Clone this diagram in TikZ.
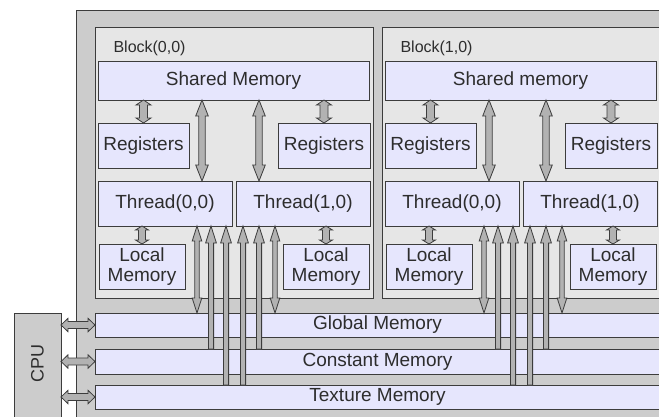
\documentclass[tikz,border=0pt]{standalone}
\usepackage{fontspec}
\setmainfont{Liberation Sans}
\usetikzlibrary{calc}

\definecolor{outerc}{RGB}{204,204,204}
\definecolor{blockc}{RGB}{230,230,230}
\definecolor{memc}{RGB}{230,230,253}
\definecolor{arrc}{RGB}{178,178,178}
\definecolor{linec}{RGB}{60,60,60}
\definecolor{textc}{RGB}{45,45,45}

\tikzset{
  membox/.style={draw=linec, line width=0.9pt, fill=memc, text=textc, inner sep=0pt, outer sep=0pt,
    align=center, anchor=north west, font=\fontsize{19}{20}\selectfont},
  fat/.style={draw=linec, line width=0.8pt, fill=arrc, line join=miter},
  % 双头粗箭头: #1 箭杆半宽, #2 箭头半宽, #3 箭头长度
  dbl/.style n args={3}{to path={
     -- ($(\tikztostart)!#3pt!(\tikztotarget)!#2pt!90:(\tikztotarget)$)
     -- ($(\tikztostart)!#3pt!(\tikztotarget)!#1pt!90:(\tikztotarget)$)
     -- ($(\tikztotarget)!#3pt!(\tikztostart)!#1pt!-90:(\tikztostart)$)
     -- ($(\tikztotarget)!#3pt!(\tikztostart)!#2pt!-90:(\tikztostart)$)
     -- (\tikztotarget)
     -- ($(\tikztotarget)!#3pt!(\tikztostart)!#2pt!90:(\tikztostart)$)
     -- ($(\tikztotarget)!#3pt!(\tikztostart)!#1pt!90:(\tikztostart)$)
     -- ($(\tikztostart)!#3pt!(\tikztotarget)!#1pt!-90:(\tikztotarget)$)
     -- ($(\tikztostart)!#3pt!(\tikztotarget)!#2pt!-90:(\tikztotarget)$)
     -- cycle}},
  % 单头粗箭头
  one/.style n args={3}{to path={
     -- ($(\tikztostart)!#1pt!90:(\tikztotarget)$)
     -- ($(\tikztotarget)!#3pt!(\tikztostart)!#1pt!-90:(\tikztostart)$)
     -- ($(\tikztotarget)!#3pt!(\tikztostart)!#2pt!-90:(\tikztostart)$)
     -- (\tikztotarget)
     -- ($(\tikztotarget)!#3pt!(\tikztostart)!#2pt!90:(\tikztostart)$)
     -- ($(\tikztotarget)!#3pt!(\tikztostart)!#1pt!90:(\tikztostart)$)
     -- ($(\tikztostart)!#1pt!-90:(\tikztotarget)$)
     -- cycle}}
}

\begin{document}
\begin{tikzpicture}[x=1pt, y=-1pt]
\useasboundingbox (0,0) rectangle (659,416);
\clip (0,0) rectangle (659,416);

% 外面的灰色大框
\filldraw[fill=outerc, draw=linec, line width=0.9pt] (76,10) rectangle (700,450);

% CPU
\node[membox, fill=outerc, minimum width=47, minimum height=130] (cpu) at (14,313) {};
\node[rotate=90, text=textc, font=\fontsize{18}{20}\selectfont] (cputxt) at (37.5,363) {CPU};

% 三条存储器
\node[membox, minimum width=565, minimum height=24] (gm) at (95,313) {Global Memory};
\node[membox, minimum width=565, minimum height=25] (cm) at (95,349) {Constant Memory};
\node[membox, minimum width=565, minimum height=24] (tm) at (95,385) {Texture Memory};

% CPU和存储器之间的箭头
\foreach \m in {gm,cm,tm}
  \draw[fat, dbl={3.5}{6.7}{7}] (cpu.east |- \m.west) to (\m.west);

% 两个Block
\foreach \b/\bx/\smtxt in {0/0/Shared Memory, 1/287/Shared memory}{
  \node[membox, fill=blockc, minimum width=278, minimum height=271] (blk\b) at (95+\bx,27) {};
  \node[anchor=base west, text=textc, font=\fontsize{16}{18}\selectfont] (blklbl\b) at (110+\bx,52) {Block(\b,0)};
  \node[membox, minimum width=271, minimum height=39] (sm\b) at (98+\bx,61) {\smtxt};
  \node[membox, minimum width=91, minimum height=45] (rl\b) at (98+\bx,123) {Registers};
  \node[membox, minimum width=92, minimum height=45] (rr\b) at (278+\bx,123) {Registers};
  \node[membox, minimum width=134, minimum height=45] (th0\b) at (98+\bx,181) {Thread(0,0)};
  \node[membox, minimum width=134, minimum height=45] (th1\b) at (236+\bx,181) {Thread(1,0)};
  \node[membox, minimum width=86, minimum height=45] (ll\b) at (99+\bx,244) {Local\\Memory};
  \node[membox, minimum width=86, minimum height=45] (lr\b) at (283+\bx,244) {Local\\Memory};

  % 箭头所在的竖线位置
  \coordinate (p\b) at (202+\bx,0);
  \coordinate (q\b) at (259+\bx,0);
  \coordinate (ga\b) at (197+\bx,0);
  \coordinate (ca\b) at (211+\bx,0);
  \coordinate (ta\b) at (226+\bx,0);
  \coordinate (tb\b) at (243+\bx,0);
  \coordinate (cb\b) at (259+\bx,0);
  \coordinate (gb\b) at (275+\bx,0);

  % Block里面的箭头
  \draw[fat, dbl={4}{7.5}{5}] (sm\b.south -| rl\b.north) to (rl\b.north);
  \draw[fat, dbl={4}{7.5}{5}] (sm\b.south -| rr\b.north) to (rr\b.north);
  \draw[fat, dbl={3.2}{6.3}{16}] (sm\b.south -| p\b) to (th0\b.north -| p\b);
  \draw[fat, dbl={3.2}{6.3}{16}] (sm\b.south -| q\b) to (th1\b.north -| q\b);
  \draw[fat, dbl={3.5}{6.5}{4}] (th0\b.south -| ll\b.north) to (ll\b.north);
  \draw[fat, dbl={3.5}{6.5}{4}] (th1\b.south -| lr\b.north) to (lr\b.north);

  % 线程和全局/常量/纹理存储器之间的箭头
  \draw[fat, dbl={2.2}{4.8}{15}] (th0\b.south -| ga\b) to (gm.north -| ga\b);
  \draw[fat, dbl={2.2}{4.8}{15}] (th1\b.south -| gb\b) to (gm.north -| gb\b);
  \draw[fat, one={2.6}{5.4}{17}] (cm.north -| ca\b) to (th0\b.south -| ca\b);
  \draw[fat, one={2.6}{5.4}{17}] (tm.north -| ta\b) to (th0\b.south -| ta\b);
  \draw[fat, one={2.6}{5.4}{17}] (tm.north -| tb\b) to (th1\b.south -| tb\b);
  \draw[fat, one={2.6}{5.4}{17}] (cm.north -| cb\b) to (th1\b.south -| cb\b);
}

\end{tikzpicture}
\end{document}
